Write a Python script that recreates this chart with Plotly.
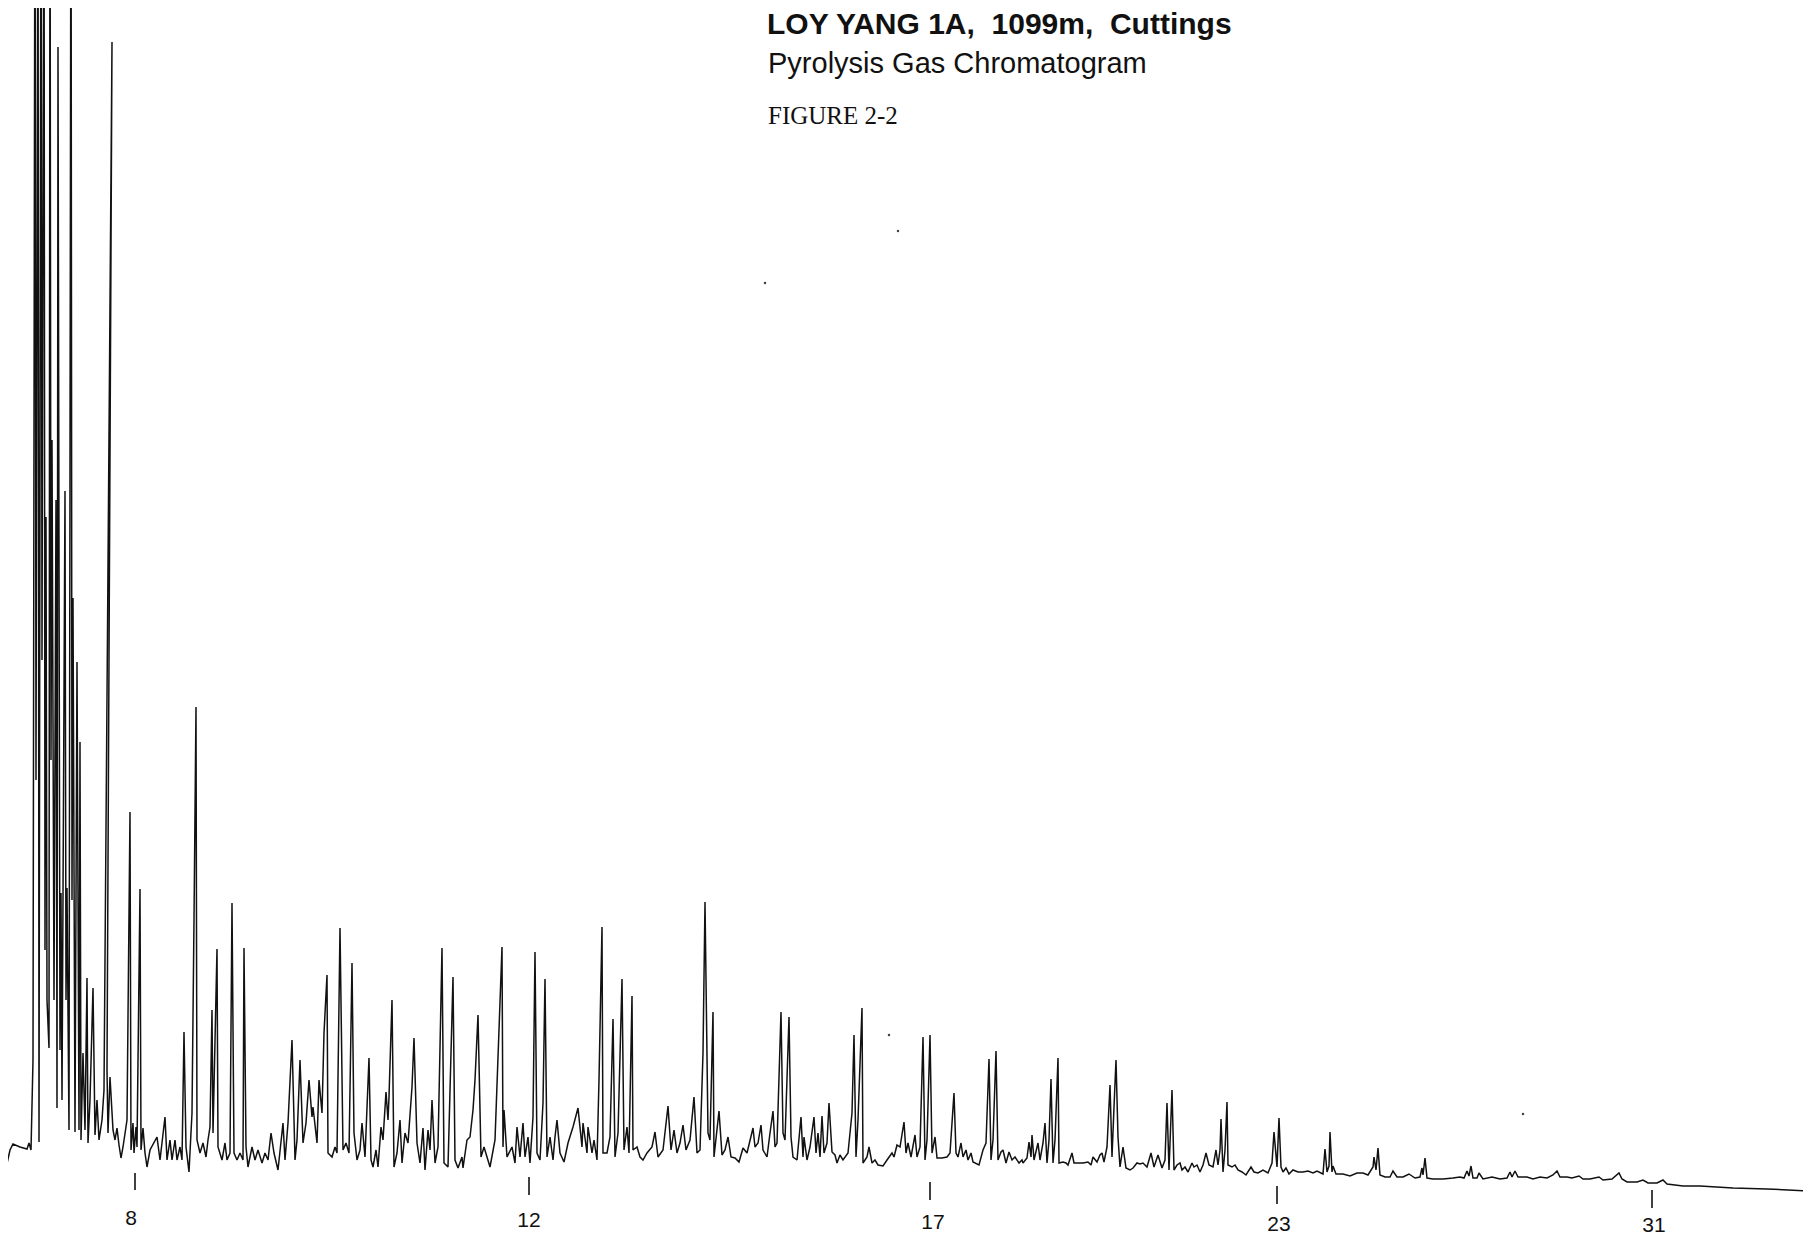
import plotly.graph_objects as go

# Pyrolysis gas chromatogram, LOY YANG 1A 1099m cuttings
# retention: time axis units (chart scale), signal: detector response (chart units)
retention = [
    3, 6, 10, 13, 20, 27, 29, 31, 33, 35,
    36, 38, 39, 41, 42, 44, 45, 46, 47, 49,
    50, 51, 52, 54, 56, 57, 58, 60, 61, 62,
    65, 66, 67, 69, 71, 72, 73, 75, 77, 79,
    80, 81, 83, 85, 87, 88, 90, 93, 95, 97,
    99, 102, 104, 112, 107, 108, 110, 113, 115, 117,
    119, 121, 123, 125, 127, 130, 131, 133, 134, 136,
    137, 140, 141, 143, 145, 147,
    150, 157, 160, 165, 167, 170, 172, 175, 177, 180,
    182, 184, 186, 189, 192, 194, 196, 197, 200, 203,
    206, 208, 210, 212, 213, 217, 218, 222, 225, 227,
    230, 232, 234, 237, 240, 243, 244, 246, 248, 252,
    255, 258, 262, 265, 268, 271, 274, 278, 283, 285,
    288, 292, 295, 297, 300, 303, 306, 309, 312, 313,
    317, 319, 322, 324, 327, 328, 332, 335, 337, 340,
    343, 346, 349, 352, 354, 357, 360, 362, 365, 369,
    371, 373, 376, 378, 381, 383, 386, 388, 389, 392,
    394, 397, 400, 402, 405, 408, 412, 414, 417, 420,
    423, 425, 428, 430, 432, 435, 438, 442, 444, 448,
    453, 455, 458, 462, 463, 467, 470, 473, 475, 478,
    481, 484, 487, 490, 495, 498, 502, 503, 504, 507,
    512, 515, 517, 520, 523, 525, 528, 530, 533, 535,
    537, 540, 543, 545, 547, 550, 553, 555, 557, 560,
    564, 568, 573, 578, 582, 583, 587, 588, 592, 594,
    597, 599, 602, 603, 607, 610, 613, 615, 618, 622,
    624, 627, 629, 632, 633, 637, 640, 643, 647, 652,
    655, 658, 663, 668, 671, 674, 677, 680, 683, 686,
    690, 694, 697, 700, 703, 705, 707, 708, 710, 713,
    714, 719, 722, 725, 728, 731, 735, 739, 743, 747,
    753, 755, 758, 761, 763, 767, 770, 773, 775, 777,
    781, 783, 785, 789, 791, 793, 797, 801, 803, 804,
    807, 810, 814, 816, 818, 820, 822, 824, 827, 829,
    832, 835, 837, 840, 843, 848, 852, 854, 856, 858,
    862, 863, 867, 869, 872, 875, 878, 883, 887, 892,
    894, 897, 900, 904, 906, 908, 911, 915, 917, 920,
    923, 925, 927, 930, 932, 935, 937, 942, 947, 950,
    954, 956, 958, 961, 963, 966, 968, 971, 973, 979,
    983, 986, 989, 991, 993, 996, 998, 1001, 1003, 1006,
    1009, 1012, 1015, 1019, 1022, 1023, 1027, 1029, 1031, 1032,
    1034, 1038, 1040, 1043, 1045, 1047, 1049, 1051, 1053, 1055,
    1058, 1059, 1063, 1066, 1068, 1072, 1074, 1078, 1083, 1088,
    1091, 1093, 1097, 1100, 1102, 1104, 1107, 1110, 1112, 1114,
    1116, 1118, 1120, 1123, 1126, 1130, 1133, 1137, 1140, 1143,
    1147, 1151, 1154, 1158, 1162, 1165, 1167, 1169, 1170, 1172,
    1174, 1177, 1180, 1182, 1185, 1188, 1192, 1194, 1197, 1200,
    1203, 1206, 1209, 1213, 1216, 1218, 1220, 1221, 1223, 1225,
    1227, 1228, 1232, 1235, 1238, 1242, 1246, 1251, 1254, 1258,
    1263, 1268, 1272, 1274, 1277, 1279, 1281, 1283, 1286, 1289,
    1293, 1298, 1303, 1308, 1313, 1317, 1323, 1325, 1327, 1329,
    1330, 1332, 1333, 1336, 1343, 1350, 1357, 1363, 1368, 1373,
    1374, 1376, 1378, 1380, 1385, 1390, 1393, 1397, 1403, 1409,
    1415, 1420, 1422, 1423, 1425, 1427, 1433, 1443, 1453, 1460,
    1464, 1467, 1469, 1471, 1473, 1477, 1479, 1483, 1492, 1500,
    1507, 1510, 1512, 1515, 1518, 1527, 1533, 1540, 1547, 1553,
    1557, 1560, 1567, 1572, 1579, 1583, 1590, 1599, 1603, 1612,
    1619, 1622, 1627, 1637, 1643, 1648, 1657, 1663, 1667, 1683,
    1700, 1717, 1733, 1767, 1787, 1811,
]

signal = [
    78, 82, 100, 106, 103, 101, 107, 100, 190, 1450,
    470, 1450, 108, 1450, 590, 1450, 300, 733, 250, 202,
    1450, 490, 810, 250, 750, 142, 1203, 200, 357, 150,
    759, 250, 362, 120, 1450, 350, 652, 118, 588, 120,
    508, 110, 197, 120, 272, 107, 150, 262, 115, 150,
    110, 130, 160, 1208, 180, 117, 173, 120, 110, 122,
    105, 92, 103, 117, 130, 438, 100, 127, 97, 123,
    103, 361, 100, 122, 97, 83,
    100, 113, 90, 133, 90, 110, 90, 110, 90, 103,
    90, 218, 103, 78, 137, 330, 543, 110, 97, 107,
    93, 110, 123, 240, 117, 301, 103, 90, 107, 90,
    97, 347, 97, 90, 97, 90, 302, 103, 83, 103,
    90, 100, 87, 97, 90, 117, 97, 80, 127, 90,
    127, 210, 90, 110, 190, 107, 127, 170, 133, 143,
    107, 170, 137, 217, 275, 97, 93, 103, 97, 322,
    100, 107, 97, 287, 117, 90, 100, 127, 93, 192,
    90, 83, 100, 83, 123, 110, 158, 130, 153, 250,
    83, 97, 130, 87, 117, 107, 163, 212, 107, 87,
    122, 80, 120, 100, 150, 87, 103, 302, 87, 83,
    273, 90, 82, 93, 82, 110, 113, 140, 170, 235,
    93, 103, 93, 83, 110, 190, 303, 103, 140, 93,
    103, 87, 123, 93, 127, 93, 113, 87, 133, 298,
    97, 90, 147, 271, 93, 113, 90, 113, 130, 97,
    88, 107, 123, 142, 103, 127, 97, 123, 97, 110,
    90, 170, 323, 97, 97, 113, 231, 93, 117, 271,
    100, 123, 97, 254, 100, 103, 93, 90, 97, 103,
    118, 93, 100, 144, 100, 120, 97, 107, 125, 100,
    110, 153, 97, 100, 197, 348, 197, 117, 110, 238,
    93, 139, 95, 100, 113, 93, 92, 88, 102, 97,
    122, 103, 107, 125, 100, 93, 117, 139, 103, 107,
    238, 117, 110, 233, 113, 93, 90, 133, 93, 113,
    90, 103, 133, 97, 117, 93, 134, 97, 107, 147,
    98, 95, 87, 95, 90, 97, 137, 215, 93, 130,
    242, 87, 93, 103, 87, 90, 85, 84, 90, 97,
    93, 105, 103, 128, 97, 107, 93, 115, 93, 103,
    213, 90, 110, 215, 97, 113, 92, 92, 93, 97,
    157, 97, 93, 107, 93, 100, 90, 97, 88, 85,
    100, 107, 191, 90, 110, 199, 90, 98, 100, 87,
    98, 90, 93, 87, 90, 87, 92, 108, 93, 115,
    90, 107, 90, 107, 127, 87, 110, 171, 87, 110,
    192, 87, 88, 87, 85, 97, 87, 87, 87, 88,
    85, 93, 88, 95, 97, 88, 103, 165, 93, 143,
    190, 113, 83, 103, 82, 80, 82, 87, 86, 87,
    83, 97, 83, 95, 82, 90, 147, 80, 107, 160,
    80, 85, 87, 80, 83, 78, 87, 83, 85, 78,
    85, 97, 85, 83, 100, 85, 100, 131, 78, 100,
    148, 85, 83, 85, 80, 78, 75, 83, 78, 77,
    80, 77, 87, 118, 83, 132, 83, 78, 82, 76,
    80, 78, 78, 79, 77, 79, 76, 101, 78, 84,
    118, 78, 84, 76, 76, 74, 77, 77, 75, 83,
    93, 80, 102, 75, 73, 73, 79, 73, 73, 76,
    72, 73, 82, 75, 92, 72, 71, 71, 72, 73,
    72, 79, 74, 84, 72, 72, 77, 71, 73, 71,
    72, 78, 73, 79, 73, 73, 71, 73, 72, 75,
    79, 73, 73, 72, 74, 71, 71, 73, 70, 71,
    77, 71, 68, 68, 70, 67, 67, 70, 66, 64,
    64, 63, 62, 61, 60, 59,
]

# carbon-number (n-alkane) markers
alkane_labels = ["8", "12", "17", "23", "31"]
alkane_rt = [135, 529, 930, 1277, 1652]
marker_signal_top = [77, 73, 68, 64, 60]
marker_signal_bottom = [60, 55, 50, 46, 42]
label_rt = [131, 529, 933, 1279, 1654]
label_signal = [30, 28, 26, 24, 23]

# stray specks on the chart paper
speck_rt = [898, 765, 889, 1523]
speck_signal = [1019, 967, 215, 136]

title_lines = ["<b>LOY YANG 1A,\u00a0 1099m,\u00a0 Cuttings</b>",
               "Pyrolysis Gas Chromatogram",
               "FIGURE 2-2"]

fig = go.Figure()

fig.add_trace(go.Scatter(
    x=retention, y=signal, mode="lines",
    line=dict(color="#111111", width=1.5),
    hoverinfo="skip", cliponaxis=True,
))

tick_x, tick_y = [], []
for rt, top, bot in zip(alkane_rt, marker_signal_top, marker_signal_bottom):
    tick_x += [rt, rt, None]
    tick_y += [top, bot, None]
fig.add_trace(go.Scatter(x=tick_x, y=tick_y, mode="lines",
                         line=dict(color="#111111", width=1.6), hoverinfo="skip"))

fig.add_trace(go.Scatter(
    x=label_rt, y=label_signal, mode="text", text=alkane_labels,
    textfont=dict(family="Liberation Sans, Arial, sans-serif", size=21, color="#111111"),
    hoverinfo="skip", cliponaxis=False,
))

fig.add_trace(go.Scatter(
    x=speck_rt, y=speck_signal, mode="markers",
    marker=dict(symbol="circle", size=2.5, color="#444444"),
    hoverinfo="skip",
))

fig.add_annotation(x=766, y=1227, xref="x", yref="y", text=title_lines[0],
                   showarrow=False, xanchor="left", yanchor="middle", borderpad=0,
                   font=dict(family="Liberation Sans, Arial, sans-serif", size=30, color="#111111"))
fig.add_annotation(x=766, y=1187, xref="x", yref="y", text=title_lines[1],
                   showarrow=False, xanchor="left", yanchor="middle",
                   font=dict(family="Liberation Sans, Arial, sans-serif", size=29, color="#111111"))
fig.add_annotation(x=766, y=1135, xref="x", yref="y", text=title_lines[2],
                   showarrow=False, xanchor="left", yanchor="middle",
                   font=dict(family="Liberation Serif, Times New Roman, serif", size=25, color="#111111"))

fig.update_layout(
    width=1795, height=1231,
    margin=dict(l=0, r=0, t=0, b=0),
    paper_bgcolor="white", plot_bgcolor="white",
    showlegend=False,
    xaxis=dict(range=[8, 1803], visible=False, fixedrange=True),
    yaxis=dict(range=[11, 1242], visible=False, fixedrange=True),
)

fig.write_html("out.html")
